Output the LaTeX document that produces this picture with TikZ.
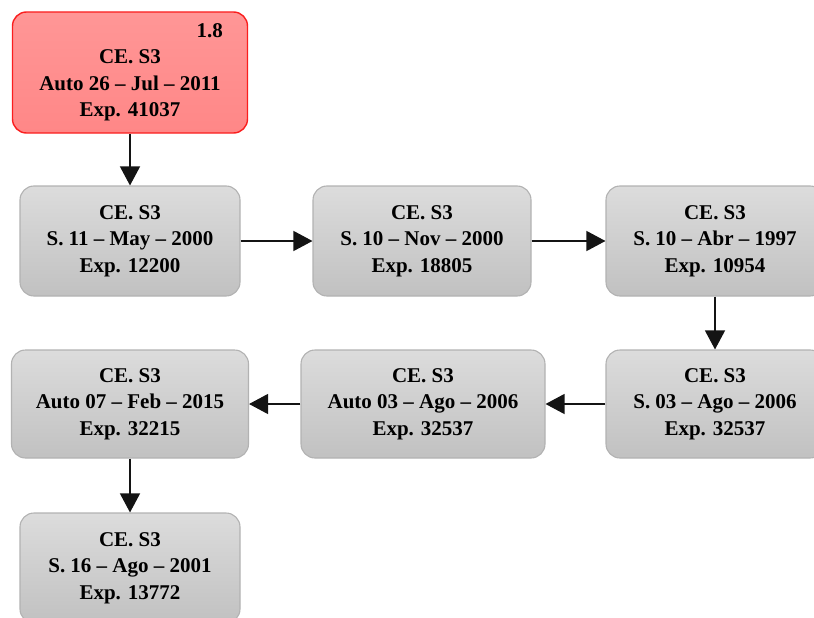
\documentclass[tikz,border=0pt]{standalone}
\usepackage{fontspec}
\setmainfont{Liberation Serif}
\usetikzlibrary{arrows.meta}

\definecolor{boxtop}{RGB}{220,220,220}
\definecolor{boxbot}{RGB}{193,193,193}
\definecolor{boxline}{RGB}{178,178,178}
\definecolor{hottop}{RGB}{255,150,150}
\definecolor{hotbot}{RGB}{255,135,135}
\definecolor{hotline}{RGB}{250,30,30}
\definecolor{linkcol}{RGB}{20,20,20}

\tikzset{
  card/.style={rectangle, rounded corners=14pt, inner sep=0pt,
    draw=boxline, line width=1.1pt, top color=boxtop, bottom color=boxbot,
    minimum height=110pt, align=center,
    font=\fontsize{21}{26.5}\selectfont\bfseries},
  hotcard/.style={card, draw=hotline, line width=1.4pt,
    top color=hottop, bottom color=hotbot},
  link/.style={draw=linkcol, line width=1.3pt,
    -{Triangle[length=19pt,width=20pt]}}
}

\begin{document}
\begin{tikzpicture}[x=1pt,y=-1pt]
\useasboundingbox (0,0) rectangle (814,618);
\clip (0,0) rectangle (814,618);

% head of the chain
\node[hotcard, minimum width=235pt, minimum height=121pt]
  (r) at (130,72.5)
  {\makebox[200pt][r]{1.8\hspace*{7pt}}\\CE. S3\\Auto 26 – Jul – 2011\\Exp. 41037};

% second row
\node[card, minimum width=220pt] (b1) at (130,241)
  {CE. S3\\S. 11 – May – 2000\\Exp. 12200};
\node[card, minimum width=218pt] (b2) at (422,241)
  {CE. S3\\S. 10 – Nov – 2000\\Exp. 18805};
\node[card, minimum width=218pt] (b3) at (715,241)
  {CE. S3\\S. 10 – Abr – 1997\\Exp. 10954};

% third row
\node[card, minimum width=218pt, minimum height=108pt] (b4) at (715,404)
  {CE. S3\\S. 03 – Ago – 2006\\Exp. 32537};
\node[card, minimum width=244pt, minimum height=108pt] (b5) at (423,404)
  {CE. S3\\Auto 03 – Ago – 2006\\Exp. 32537};
\node[card, minimum width=237pt, minimum height=108pt] (b6) at (130,404)
  {CE. S3\\Auto 07 – Feb – 2015\\Exp. 32215};

% last row
\node[card, minimum width=220pt] (b7) at (130,568)
  {CE. S3\\S. 16 – Ago – 2001\\Exp. 13772};

% connectors
\draw[link] (r.south) -- (b1.north);
\draw[link] (b1.east) -- (b2.west);
\draw[link] (b2.east) -- (b3.west);
\draw[link] (b3.south) -- (b4.north);
\draw[link] (b4.west) -- (b5.east);
\draw[link] (b5.west) -- (b6.east);
\draw[link] (b6.south) -- (b7.north);
\end{tikzpicture}
\end{document}
